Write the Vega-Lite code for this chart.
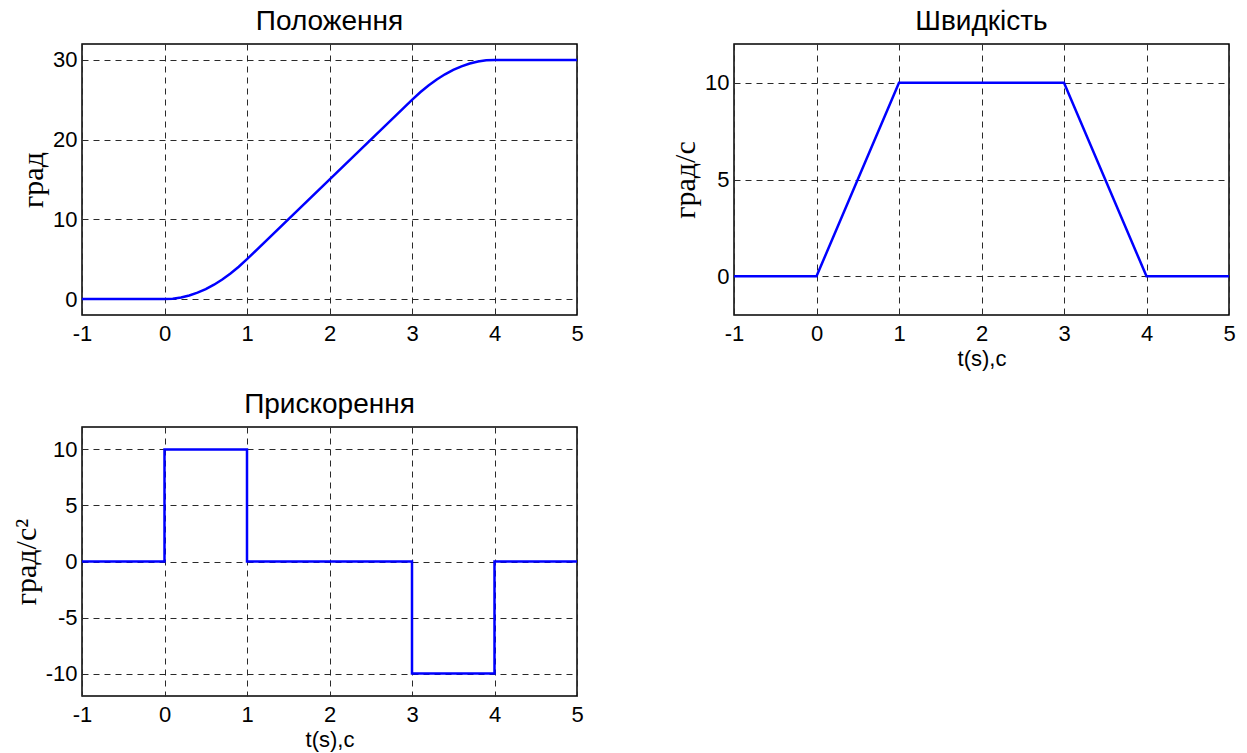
{
  "$schema": "https://vega.github.io/schema/vega-lite/v6.json",
  "background": "white",
  "padding": {"left": 10, "top": 7, "right": 5, "bottom": 5},
  "datasets": {
    "pos": [
      {"t": -1, "v": 0}, {"t": 0, "v": 0}, {"t": 0.1, "v": 0.05}, {"t": 0.2, "v": 0.2},
      {"t": 0.3, "v": 0.45}, {"t": 0.4, "v": 0.8}, {"t": 0.5, "v": 1.25}, {"t": 0.6, "v": 1.8},
      {"t": 0.7, "v": 2.45}, {"t": 0.8, "v": 3.2}, {"t": 0.9, "v": 4.05}, {"t": 1.0, "v": 5},
      {"t": 3.0, "v": 25}, {"t": 3.1, "v": 25.95}, {"t": 3.2, "v": 26.8}, {"t": 3.3, "v": 27.55},
      {"t": 3.4, "v": 28.2}, {"t": 3.5, "v": 28.75}, {"t": 3.6, "v": 29.2}, {"t": 3.7, "v": 29.55},
      {"t": 3.8, "v": 29.8}, {"t": 3.9, "v": 29.95}, {"t": 4.0, "v": 30}, {"t": 5, "v": 30}
    ],
    "vel": [
      {"t": -1, "v": 0}, {"t": 0, "v": 0}, {"t": 1, "v": 10}, {"t": 3, "v": 10}, {"t": 4, "v": 0}, {"t": 5, "v": 0}
    ],
    "acc": [
      {"i": 1, "t": -1, "v": 0}, {"i": 2, "t": 0, "v": 0}, {"i": 3, "t": 0, "v": 10}, {"i": 4, "t": 1, "v": 10},
      {"i": 5, "t": 1, "v": 0}, {"i": 6, "t": 3, "v": 0}, {"i": 7, "t": 3, "v": -10}, {"i": 8, "t": 4, "v": -10},
      {"i": 9, "t": 4, "v": 0}, {"i": 10, "t": 5, "v": 0}
    ]
  },
  "config": {
    "view": {"stroke": "black", "strokeWidth": 1.5},
    "axis": {
      "grid": true, "gridColor": "#2a2a2a", "gridDash": [6, 5], "gridWidth": 1, "gridOpacity": 1,
      "domain": false, "ticks": false,
      "labelFont": "Liberation Sans", "labelFontSize": 22, "labelColor": "black", "labelPadding": 5,
      "labelFlush": false, "labelOverlap": false, "labelExpr": "'' + datum.value",
      "titleFont": "Liberation Serif", "titleFontWeight": "normal", "titleColor": "black", "titleFontSize": 30
    },
    "axisX": {"titleFont": "Liberation Sans", "titleFontSize": 22, "titlePadding": 4, "labelPadding": 8},
    "axisY": {"titlePadding": 4},
    "title": {"font": "Liberation Sans", "fontSize": 28, "fontWeight": "normal", "color": "black", "offset": 8, "frame": "group"},
    "line": {"color": "#0000FF", "strokeWidth": 2.5}
  },
  "bounds": "flush",
  "columns": 2,
  "spacing": {"row": 112, "column": 157},
  "concat": [
    {
      "title": "Положення",
      "width": 495, "height": 271,
      "data": {"name": "pos"},
      "mark": {"type": "line"},
      "encoding": {
        "x": {"field": "t", "type": "quantitative", "scale": {"domain": [-1, 5], "nice": false}, "axis": {"values": [-1, 0, 1, 2, 3, 4, 5], "title": null}},
        "y": {"field": "v", "type": "quantitative", "scale": {"domain": [-2, 32], "nice": false, "zero": false}, "axis": {"values": [0, 10, 20, 30], "title": "град"}}
      }
    },
    {
      "title": "Швидкість",
      "width": 495, "height": 271,
      "data": {"name": "vel"},
      "mark": {"type": "line"},
      "encoding": {
        "x": {"field": "t", "type": "quantitative", "scale": {"domain": [-1, 5], "nice": false}, "axis": {"values": [-1, 0, 1, 2, 3, 4, 5], "title": "t(s),с"}},
        "y": {"field": "v", "type": "quantitative", "scale": {"domain": [-2, 12], "nice": false, "zero": false}, "axis": {"values": [0, 5, 10], "title": "град/с"}}
      }
    },
    {
      "title": "Прискорення",
      "width": 495, "height": 269,
      "data": {"name": "acc"},
      "mark": {"type": "line"},
      "encoding": {
        "x": {"field": "t", "type": "quantitative", "scale": {"domain": [-1, 5], "nice": false}, "axis": {"values": [-1, 0, 1, 2, 3, 4, 5], "title": "t(s),с"}},
        "y": {"field": "v", "type": "quantitative", "scale": {"domain": [-12, 12], "nice": false, "zero": false}, "axis": {"values": [-10, -5, 0, 5, 10], "title": "град/с²"}},
        "order": {"field": "i", "type": "quantitative"}
      }
    }
  ]
}
